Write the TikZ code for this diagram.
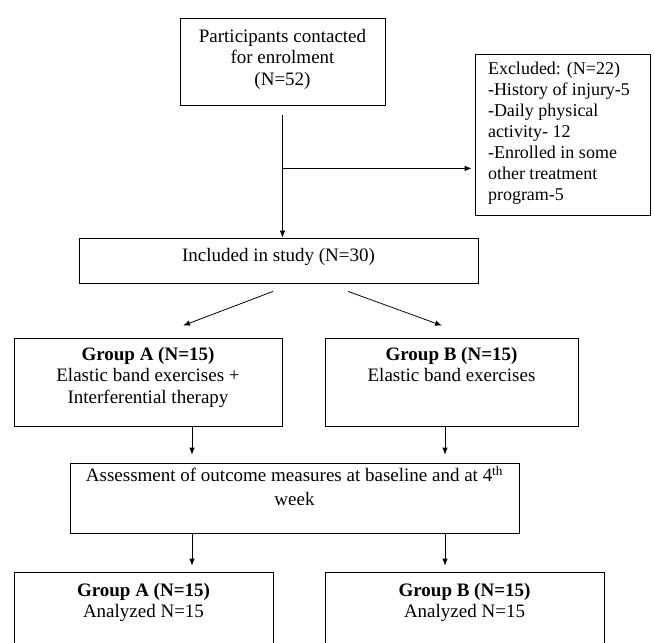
\documentclass[tikz,border=0pt]{standalone}
\usepackage{fontspec}
\setmainfont{Liberation Serif}
\usetikzlibrary{arrows.meta, positioning, calc}

\begin{document}
\begin{tikzpicture}[
        x = 1pt, y = -1pt,
        line width = 0.8pt,
        >= {Latex[length = 7pt, width = 5.5pt]},
        box/.style = {draw, inner sep = 0pt},
        words/.style = {align = center, inner sep = 0pt, font = \fontsize{19}{21.5}\selectfont},
        list/.style = {align = left, inner sep = 0pt, font = \fontsize{18}{21}\selectfont}
    ]

        \useasboundingbox (0,0) rectangle (655,642);
        \clip (0,0) rectangle (655,642);

        % boxes
        \node[box, minimum width = 205pt, minimum height = 87pt] (enrol) at (282.5, 61.5) {};
        \node[box, minimum width = 175pt, minimum height = 161pt] (excl) at (562.5, 134.5) {};
        \node[box, minimum width = 399pt, minimum height = 45pt] (incl) at (278.5, 260.5) {};
        \node[box, minimum width = 268pt, minimum height = 88pt] (grpA) at (148, 382) {};
        \node[box, minimum width = 253pt, minimum height = 88pt] (grpB) at (451.5, 382) {};
        \node[box, minimum width = 449pt, minimum height = 70pt] (assess) at (294.5, 498) {};
        \node[box, minimum width = 259pt, minimum height = 100pt] (resA) at (143.5, 622) {};
        \node[box, minimum width = 279pt, minimum height = 100pt] (resB) at (464.5, 622) {};

        % texts
        \node[words, below = 11pt of enrol.north] (enrol_t) {Participants contacted\\for enrolment\\(N=52)};
        \node[list, below right = 8pt and 13pt of excl.north west] (excl_t) {Excluded: (N=22)\\-History of injury-5\\-Daily physical\\activity- 12\\-Enrolled in some\\other treatment\\program-5};
        \node[words, below = 10pt of incl.north] (incl_t) {Included in study (N=30)};
        \node[words, below = 9pt of grpA.north] (grpA_t) {\textbf{Group A (N=15)}\\Elastic band exercises +\\Interferential therapy};
        \node[words, below = 9pt of grpB.north] (grpB_t) {\textbf{Group B (N=15)}\\Elastic band exercises};
        \node[words, below = 3pt of assess.north, font = \fontsize{19}{24}\selectfont] (assess_t) {Assessment of outcome measures at baseline and at 4\textsuperscript{th}\\week};
        \node[words, below = 11pt of resA.north] (resA_t) {\textbf{Group A (N=15)}\\Analyzed N=15};
        \node[words, below = 11pt of resB.north] (resB_t) {\textbf{Group B (N=15)}\\Analyzed N=15};

        % connectors
        \coordinate (split) at ($(enrol.south) + (0, 63)$);
        \coordinate (colA) at (192, 0);
        \coordinate (colB) at (445, 0);

        \draw[->, shorten <= 10pt] (enrol) -- (enrol |- incl.north);
        \draw[->, shorten >= 3pt] (split) -- (split -| excl.west);
        \draw[->] ($(incl.south) + (-5.5, 8)$) -- ($(grpA.north) + (35, -12)$);
        \draw[->] ($(incl.south) + (69.5, 8)$) -- ($(grpB.north) + (-9.5, -12)$);

        \path[->]
            (grpA.south -| colA) edge [shorten >= 8pt] (assess.north -| colA)
            (grpB.south -| colB) edge [shorten >= 8pt] (assess.north -| colB)
            (assess.south -| colA) edge [shorten >= 6pt] (resA.north -| colA)
            (assess.south -| colB) edge [shorten >= 6pt] (resB.north -| colB);

    \end{tikzpicture}
\end{document}
